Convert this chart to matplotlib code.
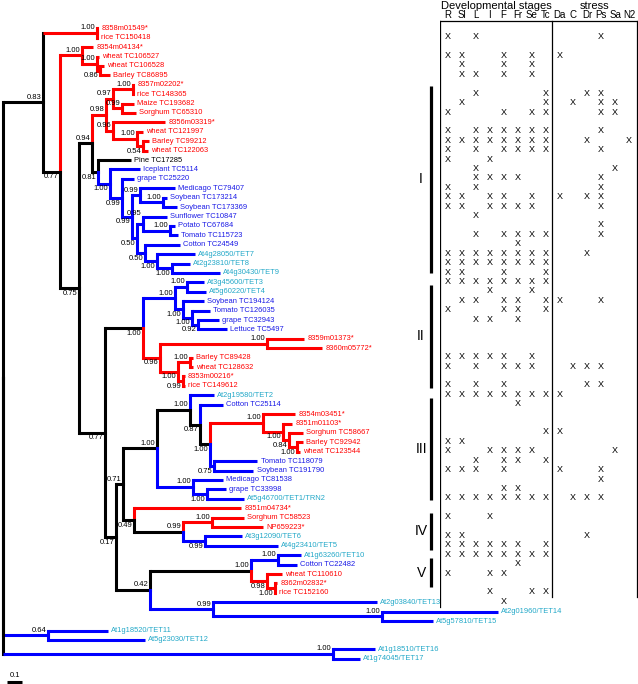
import matplotlib
matplotlib.use('Agg')
import matplotlib.pyplot as plt

plt.rcParams['font.family'] = ['Liberation Sans', 'DejaVu Sans']

# tree, branch lengths in substitutions/site
# internal labels = bootstrap + a/b/h (above/below/high), optional k = black elbow
TREE = (
    "("
    "((8358m01549*:0.007,rice TC150418:0.007)1.00ak:0.36,"
    "((8354m04134*:0.073,(wheat TC106527:0.013,(wheat TC106528:0.027,Barley TC86895:0.067)0.86b:0.02)1.00a:0.1)1.00a:0.147,"
    "(((((8357m02202*:0.007,rice TC148365:0.007)1.00a:0.133,(Maize TC193682:0.08,Sorghum TC65310:0.093)0.99a:0.06)0.97a:0.047,"
    "(8356m03319*:0.347,(wheat TC121997:0.04,(Barley TC99212:0.04,wheat TC122063:0.033)0.54b:0.04)1.00a:0.16)0.96a:0.047)0.98a:0.093,"
    "(Pine TC17285:0.22,(Iceplant TC5114:0.2,(grape TC25220:0.08,"
    "((Medicago TC79407:0.233,(Soybean TC173214:0.027,Soybean TC173369:0.093)1.00a:0.153)0.99a:0.053,"
    "((Sunflower TC10847:0.16,(Potato TC67684:0.033,Tomato TC115723:0.053)1.00a:0.18)0.95h:0.04,"
    "(Cotton TC24549:0.233,(At4g28050/TET7:0.253,(At2g23810/TET8:0.12,At4g30430/TET9:0.32)1.00b:0.1)1.00b:0.08)0.50b:0.053)0.50b:0.033"
    ")0.99b:0.067)0.99b:0.08)1.00b:0.08)0.81b:0.04)0.94a:0.087,"
    "((((At3g45600/TET3:0.113,At5g60220/TET4:0.127)1.00a:0.08,(Soybean TC194124:0.14,(Tomato TC126035:0.12,"
    "(grape TC32943:0.14,Lettuce TC5497:0.193)0.92b:0.04)1.00b:0.06)1.00b:0.053)1.00a:0.213,"
    "((8359m01373*:0.247,8360m05772*:0.367)1.00a:0.713,((Barley TC89428:0.02,wheat TC128632:0.02)1.00a:0.08,"
    "(8353m00216*:0.013,rice TC149612:0.013)0.99b:0.033)1.00b:0.12)0.96b:0.113)1.00b:0.253,"
    "((((At2g19580/TET2:0.16,(Cotton TC25114:0.153,((8354m03451*:0.213,(8351m01103*:0.06,(Sorghum TC58667:0.093,"
    "(Barley TC92942:0.04,wheat TC123544:0.02)1.00b:0.053)0.84b:0.04)1.00b:0.133)1.00a:0.353,"
    "(Tomato TC118079:0.287,Soybean TC191790:0.26)0.75b:0.027)1.00b:0.067)0.87b:0.067)1.00a:0.22,"
    "(Medicago TC81538:0.2,(grape TC33998:0.127,At5g46700/TET1/TRN2:0.247)1.00b:0.093)1.00a:0.24)1.00a:0.227,"
    "(8351m04734*:0.713,((Sorghum TC58523:0.213,NP659223*:0.34)1.00a:0.193,"
    "(At3g12090/TET6:0.247,At4g23410/TET5:0.487)0.99b:0.147)0.99a:0.327)0.49b:0.073)0.71a:0.047,"
    "(((At1g63260/TET10:0.153,Cotton TC22482:0.127)1.00a:0.18,(wheat TC110610:0.1,"
    "(8362m02832*:0.013,rice TC152160:0.007)1.00b:0.053)0.98b:0.107)1.00a:0.673,"
    "(At2g03840/TET13:1.093,(At2g01960/TET14:0.773,At5g57810/TET15:0.34)1.00a:1.127)0.99a:0.42)0.42a:0.227"
    ")0.17b:0.073)0.77b:0.173)0.75b:0.127)0.77b:0.113)0.83a:0.267,"
    "(At1g18520/TET11:0.4,At5g23030/TET12:0.647)0.64ak:0.3,"
    "(At1g18510/TET16:0.28,At1g74045/TET17:0.18)1.00ak:2.2"
    ");"
)

STAGES = ['R', 'Sl', 'L', 'I', 'F', 'Fr', 'Se', 'Tc']
STRESS = ['Da', 'C', 'Dr', 'Ps', 'Sa', 'N2']

EXPR = {
    'rice TC150418': 'R L Ps',
    'wheat TC106527': 'R Sl F Se Da',
    'wheat TC106528': 'Sl F Se',
    'Barley TC86895': 'Sl L F Se',
    'rice TC148365': 'L Tc Dr Ps',
    'Maize TC193682': 'Sl Tc C Ps Sa',
    'Sorghum TC65310': 'R F Se Tc Ps Sa',
    'wheat TC121997': 'R L I F Fr Se Tc Ps',
    'Barley TC99212': 'R Sl L I F Fr Se Tc Dr N2',
    'wheat TC122063': 'R L F Fr Se Tc Ps',
    'Pine TC17285': 'R I',
    'Iceplant TC5114': 'L Sa',
    'grape TC25220': 'L I F Fr Ps',
    'Medicago TC79407': 'R L Ps',
    'Soybean TC173214': 'R Sl I F Se Da Dr Ps',
    'Soybean TC173369': 'R Sl I F Fr Se Ps',
    'Sunflower TC10847': 'L',
    'Potato TC67684': 'Ps',
    'Tomato TC115723': 'L F Fr Se Tc Ps',
    'Cotton TC24549': 'Fr',
    'At4g28050/TET7': 'R Sl L I F Fr Se Tc Dr',
    'At2g23810/TET8': 'R Sl L I F Fr Se Tc',
    'At4g30430/TET9': 'R Sl F Tc',
    'At3g45600/TET3': 'R Sl L I F Fr Se Tc',
    'At5g60220/TET4': 'I Se',
    'Soybean TC194124': 'Sl L F Fr Tc Da Ps',
    'Tomato TC126035': 'R F Fr Tc',
    'grape TC32943': 'L I Fr',
    'Barley TC89428': 'R Sl L I F Se',
    'wheat TC128632': 'R L F Fr Se C Dr Ps',
    'rice TC149612': 'R L F Dr Ps',
    'At2g19580/TET2': 'R Sl L I F Fr Se Tc Da',
    'Cotton TC25114': 'Fr',
    'Sorghum TC58667': 'Tc Da',
    'Barley TC92942': 'R Sl',
    'wheat TC123544': 'R I F Fr Se Sa',
    'Tomato TC118079': 'L F Fr Tc',
    'Soybean TC191790': 'R Sl L F Da Ps',
    'Medicago TC81538': 'Ps',
    'grape TC33998': 'F Fr',
    'At5g46700/TET1/TRN2': 'R Sl L I F Fr Se Tc C Dr Ps',
    'Sorghum TC58523': 'R I',
    'At3g12090/TET6': 'R Sl Dr',
    'At4g23410/TET5': 'R Sl L I F Fr Tc',
    'At1g63260/TET10': 'R Sl L I F Fr Se Tc',
    'Cotton TC22482': 'Fr',
    'wheat TC110610': 'R I F',
    'rice TC152160': 'I Se Tc',
    'At2g03840/TET13': 'F',
}

# clade bars, extent in leaf-row units
CLADES = [('I', 6.1, 26.0), ('II', 27.3, 38.2), ('III', 39.3, 50.1),
          ('IV', 51.5, 55.4), ('V', 56.3, 59.4)]

RED, BLUE, CYAN = '#ff0000', '#0000ff', '#22a8c8'
TXT = {'r': RED, 'b': '#1a1ae6', 'c': CYAN, 'k': 'black'}
LABEL_DY = {'a': -0.55, 'b': 0.55, 'h': -1.1}


def parse(s):
    pos = 0

    def node():
        nonlocal pos
        n = {'children': []}
        if s[pos] == '(':
            pos += 1
            while True:
                n['children'].append(node())
                ch = s[pos]
                pos += 1
                if ch == ')':
                    break
        start = pos
        while s[pos] not in ':,);':
            pos += 1
        n['label'] = s[start:pos].strip()
        n['length'] = 0.0
        if s[pos] == ':':
            pos += 1
            start = pos
            while s[pos] not in ',);':
                pos += 1
            n['length'] = float(s[start:pos])
        return n
    return node()


def group(name):
    if name.startswith('At'):
        return 'c'
    if name.startswith('Pine'):
        return 'k'
    if '*' in name or name.split()[0] in ('rice', 'wheat', 'Barley', 'Maize', 'Sorghum'):
        return 'r'
    return 'b'


root = parse(TREE)
leaves = []


def layout(n, depth):
    n['x'] = depth + n['length']
    if not n['children']:
        n['y'] = len(leaves)
        n['groups'] = {group(n['label'])}
        leaves.append(n)
    else:
        n['groups'] = set()
        for c in n['children']:
            layout(c, n['x'])
            n['groups'] |= c['groups']
        n['y'] = (n['children'][0]['y'] + n['children'][-1]['y']) / 2
    if n['groups'] == {'r'}:
        n['color'] = RED
    elif n['groups'] <= {'b', 'c'}:
        n['color'] = BLUE
    else:
        n['color'] = 'black'


layout(root, 0.0)

fig = plt.figure(figsize=(6.38, 6.84), dpi=100)
ax = fig.add_axes([0, 0, 1, 1])
ax.set_xlim(-0.02, 4.233)
ax.set_ylim(69.68, -3.007)
ax.axis('off')

LW = 2.2


def draw(n):
    for c in n['children']:
        flags = c['label'][-2:] if c['children'] else ''
        vcol = 'black' if 'k' in flags else c['color']
        ax.plot([n['x'], n['x']], [n['y'], c['y']], color=vcol, lw=LW,
                solid_capstyle='projecting')
        ax.plot([n['x'], c['x']], [c['y'], c['y']], color=c['color'], lw=LW,
                solid_capstyle='butt')
        if c['children']:
            lab = c['label'].rstrip('k')
            val, pos = lab[:-1], lab[-1]
            ax.text(c['x'] - 0.012, c['y'] + LABEL_DY[pos], val, fontsize=5.5,
                    ha='right', va='center', color='black')
            draw(c)
        else:
            ax.text(c['x'] + 0.022, c['y'], c['label'], fontsize=5.4,
                    ha='left', va='center', color=TXT[group(c['label'])])


draw(root)

# scale bar
ax.plot([0.027, 0.127], [69.45, 69.45], color='black', lw=2.2, solid_capstyle='butt')
ax.text(0.077, 68.75, '0.1', fontsize=5.5, ha='center', va='center')

# clade bars
for lab, i0, i1 in CLADES:
    ax.plot([2.853, 2.853], [i0, i1], color='black', lw=2.3, solid_capstyle='butt')
    ax.text(2.787, (i0 + i1) / 2, lab, fontsize=10, ha='center', va='center')

# expression matrix
names = [l['label'] for l in leaves]
mx = fig.add_axes([440 / 638, 0, 198 / 638, 1])
mx.set_xlim(-0.575, 13.65)
mx.set_ylim(69.68, -3.007)
mx.axis('off')
cols = STAGES + STRESS
for i, name in enumerate(names):
    if name in EXPR:
        for c in EXPR[name].split():
            mx.text(cols.index(c), i - 0.1, 'X', fontsize=6.5, ha='center', va='center')
for j, c in enumerate(cols):
    mx.text(j, -1.36, c, fontsize=7, ha='center', va='center')
mx.text(3.5, -2.4, 'Developmental stages', fontsize=8, ha='center', va='center')
mx.text(10.5, -2.4, 'stress', fontsize=8, ha='center', va='center')
mx.plot([-0.55, 13.6], [-0.78, -0.78], color='black', lw=0.9)
mx.plot([-0.55, -0.55], [-0.78, 61.5], color='black', lw=0.9)
mx.plot([7.5, 7.5], [-0.78, 60.4], color='black', lw=0.9)
mx.plot([13.6, 13.6], [-0.78, 60.4], color='black', lw=0.9)

fig.savefig('out.png', dpi=100)
